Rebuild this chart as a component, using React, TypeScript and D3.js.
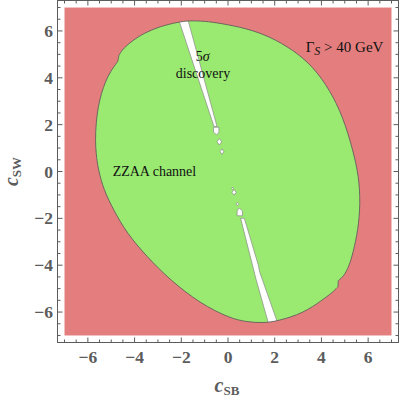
import React from "react";
import * as d3 from "d3";

type Pt = [number, number];

// boundary of the ZZAA channel region (c_SB, c_SW).
// repeated points keep the two small notches sharp
const channelBoundary: Pt[] = [
  [0.8, 6.11], [-0.34, 6.33], [-1.0, 6.42], [-1.7, 6.44], [-2.12, 6.38],
  [-2.9, 6.2], [-3.62, 5.9], [-4.18, 5.52], [-4.54, 5.19],
  [-4.67, 4.95], [-4.67, 4.95], [-4.67, 4.95],
  [-4.72, 4.7], [-4.72, 4.7], [-4.72, 4.7],
  [-5.04, 4.26], [-5.25, 3.83], [-5.42, 3.34], [-5.56, 2.77], [-5.65, 2.06],
  [-5.68, 1.35], [-5.65, 0.78], [-5.56, 0.1], [-5.32, -0.79], [-4.9, -1.64],
  [-4.33, -2.64], [-3.47, -3.64], [-2.48, -4.63], [-1.2, -5.63], [0.09, -6.27],
  [0.8, -6.42], [1.51, -6.47], [2.15, -6.38], [3.22, -6.05], [4.05, -5.48],
  [4.45, -5.18],
  [4.71, -4.92], [4.71, -4.92], [4.71, -4.92],
  [4.72, -4.66], [4.72, -4.66], [4.72, -4.66],
  [4.95, -4.48], [5.18, -4.05], [5.35, -3.49], [5.57, -2.5], [5.67, -1.36],
  [5.6, -0.2], [5.35, 0.92], [4.92, 2.34], [4.36, 3.48], [3.64, 4.48],
  [2.79, 5.19], [1.79, 5.76],
];

// 5 sigma discovery strip (holes in the region)
const upperStrip: Pt[] = [
  [-2.25, 6.9], [-1.83, 6.9], [-0.47, 1.92], [-0.6, 1.92],
];
const lowerStrip: Pt[] = [
  [0.54, -2.0], [0.7, -2.0], [1.3, -4.0], [1.36, -4.3], [2.28, -6.9], [1.85, -6.9],
  [1.2, -4.6], [1.1, -4.2],
];
const upperPentagon: Pt[] = [
  [-0.62, 1.89], [-0.39, 1.89], [-0.39, 1.68], [-0.48, 1.56], [-0.62, 1.68],
];
const lowerPentagon: Pt[] = [
  [0.62, -1.89], [0.39, -1.89], [0.39, -1.68], [0.48, -1.56], [0.62, -1.68],
];
// small islands: centre x, centre y, half width, half height
const islands: [number, number, number, number][] = [
  [-0.37, 1.27, 0.1, 0.14],
  [-0.26, 0.85, 0.08, 0.12],
  [0.2, -0.72, 0.04, 0.05],
  [0.26, -0.89, 0.09, 0.12],
  [0.4, -1.39, 0.06, 0.07],
];

const tickLabels = [-6, -4, -2, 0, 2, 4, 6];
const minorTicks = d3.range(-7, 7.01, 0.5).filter((t) => t % 2 !== 0);

const RED = "#E47E7E";
const GREEN = "#9AE971";
const AXIS = "#5c5c5c";
const SERIF = "'Liberation Serif', 'Times New Roman', serif";

const App = () => {
  const x = d3.scaleLinear().domain([-7.3, 7.3]).range([57.5, 398.5]);
  const y = d3.scaleLinear().domain([-7.3, 7.3]).range([342.5, 0.5]);

  const smooth = d3
    .line<Pt>()
    .x((d) => x(d[0]))
    .y((d) => y(d[1]))
    .curve(d3.curveBasisClosed);
  const poly = d3
    .line<Pt>()
    .x((d) => x(d[0]))
    .y((d) => y(d[1]))
    .curve(d3.curveLinearClosed);

  const regionPath = smooth(channelBoundary) || "";
  const islandPts = islands.map(([cx, cy, rx, ry]) => [
    [cx, cy + ry],
    [cx + rx, cy],
    [cx, cy - ry],
    [cx - rx, cy],
  ] as Pt[]);

  const fmt = (t: number) => (t < 0 ? "\u2212" + Math.abs(t) : String(t));

  return (
    <svg
      width={400}
      height={398}
      style={{ position: "absolute", left: 0, top: 0 }}
      fontFamily={SERIF}
    >
      <defs>
        <clipPath id="region">
          <path d={regionPath} />
        </clipPath>
      </defs>
      <rect
        x={x(-7)}
        y={y(7)}
        width={x(7) - x(-7)}
        height={y(-7) - y(7)}
        fill={RED}
      />
      <path d={regionPath} fill={GREEN} />
      <g clipPath="url(#region)" fill="white" stroke="#8a8a8a" strokeWidth={0.7}>
        <path d={poly(upperStrip) || ""} />
        <path d={poly(lowerStrip) || ""} />
      </g>
      <g fill="white" stroke="#8a8a8a" strokeWidth={0.7}>
        <path d={poly(upperPentagon) || ""} />
        <path d={poly(lowerPentagon) || ""} />
        {islandPts.map((p, i) => (
          <path key={i} d={poly(p) || ""} />
        ))}
      </g>
      <path d={regionPath} fill="none" stroke="#555" strokeWidth={0.8} />

      {/* annotations */}
      <text x={x(4.99)} y={y(5.12)} fontSize={15} textAnchor="middle" fill="#111">
        {"\u0393"}
        <tspan fontStyle="italic" fontSize={12} dy={3}>S</tspan>
        <tspan dy={-3}>{" > 40 GeV"}</tspan>
      </text>
      <text x={x(-1.08)} y={y(4.7)} fontSize={14} textAnchor="middle" fill="#111">
        5<tspan fontStyle="italic">{"\u03C3"}</tspan>
      </text>
      <text x={x(-1.07)} y={y(3.98)} fontSize={14} textAnchor="middle" fill="#111">
        discovery
      </text>
      <text x={x(-3.15)} y={y(-0.2)} fontSize={14} textAnchor="middle" fill="#111">
        ZZAA channel
      </text>

      {/* frame */}
      <rect
        x={57.5}
        y={0.5}
        width={341}
        height={342}
        fill="none"
        stroke={AXIS}
        strokeWidth={1}
      />
      <g stroke={AXIS} strokeWidth={1}>
        {tickLabels.map((t) => (
          <g key={"M" + t}>
            <line x1={x(t)} x2={x(t)} y1={342.5} y2={337.5} />
            <line x1={x(t)} x2={x(t)} y1={0.5} y2={5.5} />
            <line x1={57.5} x2={62.5} y1={y(t)} y2={y(t)} />
            <line x1={398.5} x2={393.5} y1={y(t)} y2={y(t)} />
          </g>
        ))}
        {minorTicks.map((t) => (
          <g key={"m" + t}>
            <line x1={x(t)} x2={x(t)} y1={342.5} y2={339.5} />
            <line x1={x(t)} x2={x(t)} y1={0.5} y2={3.5} />
            <line x1={57.5} x2={60.5} y1={y(t)} y2={y(t)} />
            <line x1={398.5} x2={395.5} y1={y(t)} y2={y(t)} />
          </g>
        ))}
      </g>
      <g fill={AXIS} fontSize={17.5} fontWeight="bold">
        {tickLabels.map((t) => (
          <text key={"x" + t} x={x(t)} y={363} textAnchor="middle">
            {fmt(t)}
          </text>
        ))}
        {tickLabels.map((t) => (
          <text
            key={"y" + t}
            x={53}
            y={y(t)}
            textAnchor="end"
            dominantBaseline="central"
          >
            {fmt(t)}
          </text>
        ))}
      </g>

      {/* axis titles */}
      <text x={227} y={392} textAnchor="middle" fill={AXIS} fontWeight="bold">
        <tspan fontStyle="italic" fontSize={20}>c</tspan>
        <tspan fontSize={13} dy={3}>SB</tspan>
      </text>
      <text
        transform={`translate(18,${y(0)}) rotate(-90)`}
        textAnchor="middle"
        fill={AXIS}
        fontWeight="bold"
      >
        <tspan fontStyle="italic" fontSize={20}>c</tspan>
        <tspan fontSize={13} dy={3}>SW</tspan>
      </text>
    </svg>
  );
};

export default App;
